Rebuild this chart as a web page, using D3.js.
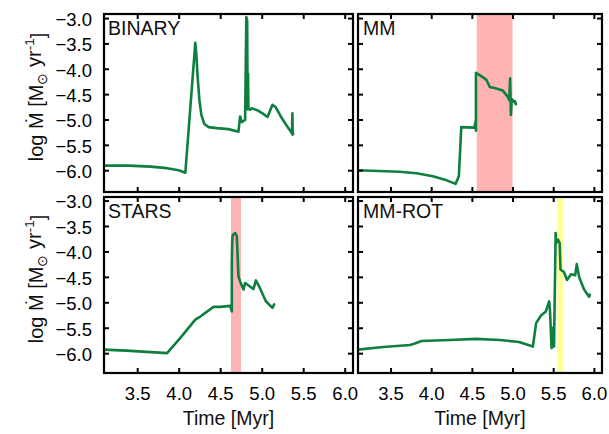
<!DOCTYPE html>
<html><head><meta charset="utf-8">
<script src="https://cdn.jsdelivr.net/npm/d3@7"></script>
<style>body{margin:0;background:#fff}svg{display:block}</style>
</head><body><svg id="c" width="609" height="434"></svg>
<script>
// ---- data ----
const xTicks = [3.5, 4.0, 4.5, 5.0, 5.5, 6.0];
const yTicks = [-3.0, -3.5, -4.0, -4.5, -5.0, -5.5, -6.0];
const panelNames = ["BINARY", "MM", "STARS", "MM-ROT"];

const binaryTime   = [3.10, 3.40, 3.66, 3.86, 4.00, 4.08, 4.20, 4.212, 4.228, 4.249, 4.273, 4.309, 4.361, 4.46, 4.60, 4.72, 4.74, 4.76, 4.80, 4.815, 4.825, 4.83, 4.835, 4.84, 4.86, 4.88, 4.95, 5.01, 5.07, 5.13, 5.17, 5.23, 5.30, 5.365, 5.37, 5.373, 5.38];
const binaryLogMdot = [-5.91, -5.91, -5.93, -5.96, -6.00, -6.05, -3.49, -3.70, -4.16, -4.61, -4.91, -5.09, -5.15, -5.17, -5.19, -5.24, -4.94, -5.05, -5.01, -2.98, -3.05, -4.80, -4.10, -4.78, -4.81, -4.78, -4.82, -4.88, -4.95, -4.71, -4.76, -4.94, -5.12, -5.27, -4.88, -5.30, -5.28];

const mmTime    = [3.10, 3.61, 3.82, 4.02, 4.19, 4.30, 4.34, 4.37, 4.53, 4.55, 4.55, 4.55, 4.61, 4.68, 4.72, 4.78, 4.88, 4.94, 4.96, 4.97, 4.98, 4.99, 5.00, 5.02, 5.04, 5.03, 5.04];
const mmLogMdot = [-6.00, -6.03, -6.06, -6.12, -6.20, -6.27, -6.12, -5.15, -5.16, -5.01, -5.22, -4.08, -4.14, -4.22, -4.36, -4.38, -4.43, -4.55, -4.62, -4.19, -4.91, -4.62, -4.61, -4.65, -4.69, -4.64, -4.70];

const starsTime    = [3.10, 3.37, 3.86, 4.02, 4.20, 4.26, 4.42, 4.50, 4.62, 4.64, 4.64, 4.645, 4.65, 4.68, 4.70, 4.72, 4.74, 4.78, 4.80, 4.90, 4.93, 4.97, 5.05, 5.13, 5.15];
const starsLogMdot = [-5.93, -5.95, -6.00, -5.70, -5.34, -5.28, -5.09, -5.09, -5.07, -5.18, -4.20, -3.80, -3.68, -3.64, -3.70, -4.49, -4.59, -4.75, -4.62, -4.74, -4.57, -4.69, -4.98, -5.11, -5.04];

const mmrotTime    = [3.10, 3.41, 3.74, 3.80, 3.88, 4.23, 4.55, 4.84, 5.08, 5.25, 5.29, 5.35, 5.41, 5.45, 5.46, 5.48, 5.49, 5.51, 5.53, 5.535, 5.56, 5.58, 5.59, 5.63, 5.67, 5.72, 5.77, 5.79, 5.82, 5.88, 5.94, 5.95];
const mmrotLogMdot = [-5.93, -5.88, -5.84, -5.81, -5.76, -5.74, -5.72, -5.74, -5.78, -5.87, -5.41, -5.26, -5.18, -4.98, -5.15, -5.90, -5.50, -5.87, -3.64, -3.84, -3.77, -3.84, -4.36, -4.40, -4.56, -4.45, -4.47, -4.25, -4.51, -4.75, -4.89, -4.85];

const bandStart = [null, 4.56, 4.63, 5.55];
const bandEnd   = [null, 5.00, 4.75, 5.62];
const bandColor = [null, "#ffb3b3", "#ffb3b3", "#ffff99"];

const seriesTime = [binaryTime, mmTime, starsTime, mmrotTime];
const seriesVal  = [binaryLogMdot, mmLogMdot, starsLogMdot, mmrotLogMdot];

// ---- layout ----
const svg = d3.select("#c");
const FONT = '"Liberation Sans", Arial, Helvetica, sans-serif';
const cols = [[104, 353], [358, 602]];
const rows = [{top: 14, bot: 192, dom: [-6.43, -2.92]}, {top: 197, bot: 373, dom: [-6.39, -2.93]}];
const lineColor = "#0e7f3e";
const fmt = d3.format(".1f");

panelNames.forEach((name, i) => {
  const ci = i % 2, ri = Math.floor(i / 2);
  const c = cols[ci], r = rows[ri];
  const x = d3.scaleLinear().domain([3.1, 6.1]).range(c);
  const y = d3.scaleLinear().domain(r.dom).range([r.bot, r.top]);
  const g = svg.append("g");

  const cid = "clip" + i;
  svg.append("clipPath").attr("id", cid).append("rect")
    .attr("x", c[0]).attr("y", r.top).attr("width", c[1] - c[0]).attr("height", r.bot - r.top);

  const pg = g.append("g").attr("clip-path", `url(#${cid})`);
  if (bandStart[i] !== null) {
    pg.append("rect")
      .attr("x", x(bandStart[i])).attr("width", x(bandEnd[i]) - x(bandStart[i]))
      .attr("y", r.top).attr("height", r.bot - r.top)
      .attr("fill", bandColor[i]);
  }
  const data = seriesTime[i].map((t, k) => [t, seriesVal[i][k]]);
  pg.append("path").datum(data)
    .attr("d", d3.line().x(d => x(d[0])).y(d => y(d[1])))
    .attr("fill", "none").attr("stroke", lineColor)
    .attr("stroke-width", 2.6).attr("stroke-linejoin", "round").attr("stroke-linecap", "round");

  const styleAxis = (sel) => {
    sel.select(".domain").remove();
    sel.selectAll(".tick line").attr("stroke", "#000").attr("stroke-width", 2);
    sel.selectAll(".tick text").attr("fill", "#000").style("font-family", FONT).style("font-size", "18.5px");
  };

  g.append("g").attr("transform", `translate(0,${r.bot})`)
    .call(d3.axisBottom(x).tickValues(xTicks).tickSizeInner(-5).tickSizeOuter(0).tickPadding(13.5)
      .tickFormat(ri === 1 ? fmt : () => ""))
    .call(styleAxis);
  g.append("g").attr("transform", `translate(0,${r.top})`)
    .call(d3.axisTop(x).tickValues(xTicks).tickSizeInner(-5).tickSizeOuter(0).tickFormat(() => ""))
    .call(styleAxis);
  g.append("g").attr("transform", `translate(${c[0]},0)`)
    .call(d3.axisLeft(y).tickValues(yTicks).tickSizeInner(-5).tickSizeOuter(0).tickPadding(12)
      .tickFormat(ci === 0 ? fmt : () => ""))
    .call(styleAxis)
    .call(s => s.selectAll(".tick text").attr("dy", "0.4em"));
  g.append("g").attr("transform", `translate(${c[1]},0)`)
    .call(d3.axisRight(y).tickValues(yTicks).tickSizeInner(-5).tickSizeOuter(0).tickFormat(() => ""))
    .call(styleAxis);

  g.append("rect").attr("x", c[0]).attr("y", r.top)
    .attr("width", c[1] - c[0]).attr("height", r.bot - r.top)
    .attr("fill", "none").attr("stroke", "#000").attr("stroke-width", 2.2);

  g.append("text").attr("x", c[0] + (ci === 0 ? 4 : 5)).attr("y", r.top + 21)
    .style("font-family", FONT).style("font-size", "19.5px").attr("fill", "#111")
    .text(name);

  if (ri === 1) {
    g.append("text").attr("x", (c[0] + c[1]) / 2).attr("y", 425)
      .attr("text-anchor", "middle")
      .style("font-family", FONT).style("font-size", "19.5px").attr("fill", "#111")
      .text("Time [Myr]");
  }
  if (ci === 0) {
    const cy = ri === 0 ? 97 : 279;
    const t = g.append("text").attr("transform", `translate(43,${cy}) rotate(-90)`)
      .attr("text-anchor", "middle")
      .style("font-family", FONT).style("font-size", "20px").attr("fill", "#111");
    t.append("tspan").text("log \u1E40  [M");
    t.append("tspan").attr("dy", "0.3em").style("font-size", "14px").text("\u2299");
    t.append("tspan").attr("dy", "-0.3em").text(" yr");
    t.append("tspan").attr("dy", "-0.55em").style("font-size", "13.5px").text("-1");
    t.append("tspan").attr("dy", "0.55em").text("]");
  }
});
</script>
</body></html>
